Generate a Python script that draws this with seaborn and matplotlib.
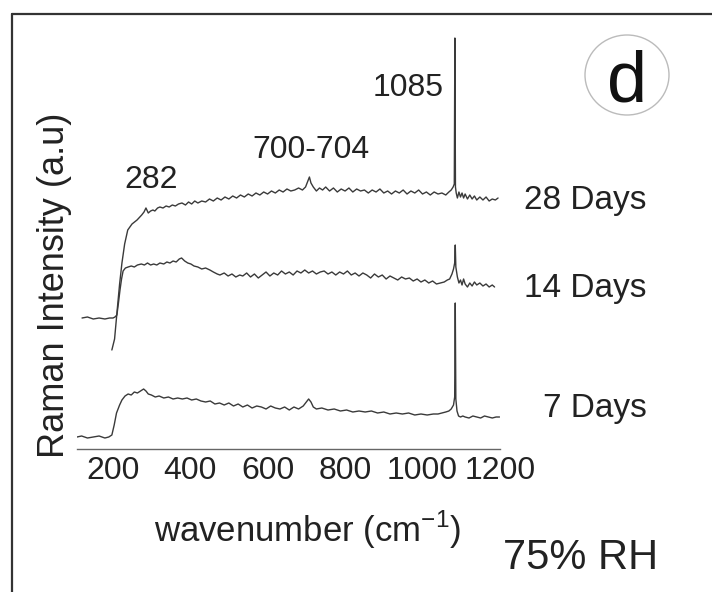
import numpy as np
import pandas as pd
import matplotlib
matplotlib.use("Agg")
import matplotlib.pyplot as plt
from matplotlib.patches import Ellipse
from matplotlib.lines import Line2D
import seaborn as sns

# ---------------- data ----------------
w7 = [108, 120, 135, 150, 165, 180, 190, 198, 204, 210, 218, 224, 232, 240, 248, 256, 264, 272, 280, 286,
      292, 300, 310, 320, 332, 344, 356, 368, 380, 392, 404, 416, 428, 440, 452, 464, 476, 488, 500, 512,
      524, 536, 548, 560, 572, 584, 596, 608, 620, 632, 644, 656, 668, 680, 692, 700, 706, 712, 718, 726,
      740, 756, 772, 788, 804, 820, 836, 852, 868, 884, 900, 916, 932, 948, 964, 980, 996, 1012, 1028, 1040,
      1050, 1060, 1068, 1074, 1080, 1083, 1084.5, 1086, 1089, 1093, 1098, 1104, 1110, 1120, 1130, 1140,
      1150, 1160, 1170, 1180, 1190, 1199]
i7 = [12, 13, 11, 12, 13, 11, 12, 14, 24, 36, 44, 49, 53, 55, 54, 57, 56, 58, 60, 58,
      55, 54, 52, 53, 51, 52, 50, 51, 50, 51, 49, 50, 48, 47, 48, 45, 46, 44, 46, 43,
      45, 42, 44, 41, 43, 42, 40, 43, 41, 40, 42, 39, 42, 40, 43, 47, 50, 47, 42, 40,
      41, 39, 40, 38, 39, 37, 38, 37, 38, 36, 37, 35, 36, 35, 36, 34, 35, 34, 35, 35,
      36, 37, 38, 40, 44, 52, 146, 50, 38, 33, 32, 33, 32, 31, 33, 32,
      31, 33, 32, 31, 32, 32]

w14 = [121, 135, 150, 165, 180, 192, 201, 206, 211, 215, 219, 223, 227, 233, 240, 248, 256, 264, 274, 282, 290,
       298, 306, 314, 322, 332, 340, 348, 356, 364, 372, 378, 386, 394, 402, 410, 420, 430, 440, 451, 460,
       470, 477, 488, 498, 508, 518, 528, 536, 546, 556, 566, 576, 586, 596, 606, 616, 626, 636, 646, 656,
       666, 676, 686, 696, 706, 716, 726, 736, 746, 756, 766, 776, 786, 796, 806, 816, 826, 836, 846, 856,
       866, 876, 886, 896, 906, 916, 926, 936, 946, 956, 966, 976, 986, 996, 1006, 1016, 1026, 1036, 1046,
       1056, 1064, 1070, 1076, 1080, 1083, 1084.5, 1086, 1090, 1094, 1098, 1102, 1106, 1110, 1116, 1122, 1128,
       1134, 1140, 1148, 1156, 1164, 1172, 1180, 1186]
i14 = [131, 132, 130, 131, 130, 131, 131, 132, 134, 146, 159, 170, 178, 181, 182, 183, 182, 184, 185, 184, 186,
       184, 185, 184, 186, 185, 187, 186, 188, 187, 190, 191, 188, 186, 185, 183, 182, 180, 181, 179, 177,
       175, 174, 176, 173, 175, 172, 174, 173, 176, 172, 175, 171, 174, 177, 173, 176, 174, 178, 175, 177,
       174, 178, 176, 179, 176, 178, 175, 177, 178, 175, 177, 174, 177, 175, 178, 174, 176, 173, 176, 174,
       171, 175, 172, 174, 170, 173, 171, 169, 172, 170, 171, 168, 170, 167, 169, 166, 168, 165, 166,
       167, 169, 170, 175, 180, 186, 204, 182, 172, 166, 169, 164, 170, 165, 162, 166, 163,
       167, 164, 166, 163, 165, 162, 164, 162]

w28 = [198, 205, 212, 218, 224, 231, 239, 250, 263, 275, 281, 286, 292, 298, 304, 309, 316,
       322, 330, 338, 346, 354, 362, 370, 379, 388, 396, 404, 412, 420, 430, 440, 450, 460, 470, 480, 490,
       500, 510, 520, 530, 540, 550, 560, 570, 580, 590, 600, 610, 620, 630, 640, 650, 660, 670, 680, 690,
       698, 704, 708, 712, 718, 726, 734, 742, 750, 760, 770, 780, 790, 800, 810, 820, 830, 840, 850, 860,
       870, 880, 890, 900, 910, 920, 930, 940, 950, 960, 970, 980, 990, 1000, 1010, 1020, 1030, 1040, 1050,
       1060, 1068, 1074, 1079, 1082, 1083.5, 1085, 1087, 1090, 1094, 1098, 1102, 1106, 1110, 1116, 1122,
       1128, 1134, 1140, 1148, 1156, 1164, 1172, 1180, 1188, 1195]
i28 = [99, 110, 140, 165, 186, 205, 219, 225, 229, 234, 237, 241, 236, 238, 239, 238, 241,
       242, 241, 243, 242, 244, 243, 245, 246, 244, 247, 245, 248, 246, 248, 247, 250, 248, 251, 249, 252,
       250, 253, 251, 254, 252, 255, 253, 256, 254, 257, 255, 258, 256, 259, 257, 260, 258, 259, 261, 259,
       262, 268, 272, 266, 262, 258, 261, 259, 262, 258, 261, 257, 260, 258, 261, 257, 260, 258, 259, 256,
       259, 257, 260, 256, 258, 255, 258, 256, 259, 255, 258, 256, 259, 255, 257, 254, 257, 255, 256,
       254, 257, 259, 262, 265, 411, 262, 256, 251, 257, 252, 256, 251, 255, 250, 254,
       250, 253, 249, 252, 249, 252, 248, 250, 249, 251]

series_names = ["7 Days", "14 Days", "28 Days"]
xticks = [200, 400, 600, 800, 1000, 1200]

df = pd.concat([
    pd.DataFrame({"wavenumber": w7, "intensity": i7, "series": "7 Days"}),
    pd.DataFrame({"wavenumber": w14, "intensity": i14, "series": "14 Days"}),
    pd.DataFrame({"wavenumber": w28, "intensity": i28, "series": "28 Days"}),
], ignore_index=True)

# ---------------- figure ----------------
sns.set_style("white")
plt.rcParams["font.family"] = ["Liberation Sans", "DejaVu Sans"]
plt.rcParams["mathtext.fontset"] = "custom"
plt.rcParams["mathtext.rm"] = "Liberation Sans"

W, H = 712, 592
fig = plt.figure(figsize=(W / 100, H / 100), dpi=100)
ax = fig.add_axes([77 / W, 143 / H, 423 / W, 420 / H])

sns.lineplot(data=df, x="wavenumber", y="intensity", hue="series",
             palette={s: "#3a3a3a" for s in series_names}, estimator=None,
             sort=False, legend=False, linewidth=1.0, ax=ax)

ax.set_xlim(108, 1200)
ax.set_ylim(0, 420)
ax.set_xticks(xticks)
ax.set_xticklabels([str(t) for t in xticks])
ax.set_yticks([])
for s in ["left", "right", "top"]:
    ax.spines[s].set_visible(False)
ax.spines["bottom"].set_color("#666666")
ax.spines["bottom"].set_linewidth(1.0)
ax.tick_params(axis="x", direction="in", length=3, width=0.8, color="#777777",
               labelsize=23, pad=5, labelcolor="#222222")

ax.set_xlabel(r"wavenumber (cm$^{\mathregular{-1}}$)", fontsize=25, color="#222222")
ax.xaxis.set_label_coords((308 - 77) / 423, (449 - 530) / 420)
ax.xaxis.label.set_va("center")
ax.set_ylabel("Raman Intensity (a.u)", fontsize=26, color="#222222")
ax.yaxis.set_label_coords((55 - 77) / 423, (449 - 285) / 420)
ax.yaxis.label.set_va("center")

# peak annotations
ax.text(299, 269, "282", fontsize=23, ha="center", va="center", color="#222222")
ax.text(712, 299, "700-704", fontsize=23, ha="center", va="center", color="#222222")
ax.text(962, 361, "1085", fontsize=23, ha="center", va="center", color="#222222")

# series labels
for name, ypx in zip(["28 Days", "14 Days", "7 Days"], [200, 288, 408]):
    fig.text(647 / W, (H - ypx) / H, name, fontsize=24, ha="right", va="center", color="#222222")

fig.text(658 / W, (H - 558) / H, "75% RH", fontsize=30, ha="right", va="center", color="#222222")

# panel letter in circle
fig.text(627 / W, (H - 102) / H, "d", fontsize=52, ha="center", va="baseline", color="#111111")
fig.add_artist(Ellipse((627 / W, (H - 75) / H), 84 / W, 80 / H, transform=fig.transFigure,
                       fill=False, edgecolor="#bbbbbb", linewidth=1.0))

# outer frame (top and left edges visible)
fig.add_artist(Line2D([12 / W, 1.0], [(H - 14) / H, (H - 14) / H], transform=fig.transFigure,
                      color="#333333", linewidth=1.6))
fig.add_artist(Line2D([12 / W, 12 / W], [0.0, (H - 14) / H], transform=fig.transFigure,
                      color="#333333", linewidth=1.6))

fig.savefig("out.png", dpi=100)
